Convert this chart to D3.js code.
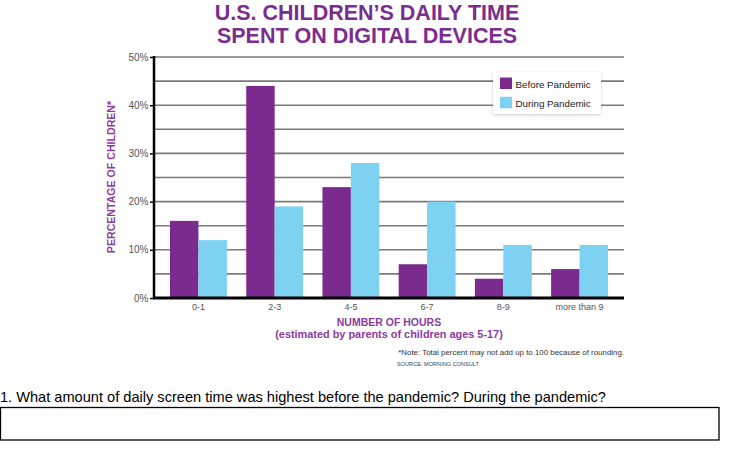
<!DOCTYPE html>
<html><head><meta charset="utf-8">
<script src="https://cdn.jsdelivr.net/npm/d3@7"></script>
<style>body{margin:0;background:#fff}svg{display:block}</style>
</head><body>
<script>
const categories = ["0-1","2-3","4-5","6-7","8-9","more than 9"];
const seriesNames = ["Before Pandemic","During Pandemic"];
const before = [16,44,23,7,4,6];
const during = [12,19,28,20,11,11];
const yTicks = [0,10,20,30,40,50];
const gridValues = [5,10,15,20,25,30,35,40,45,50];

const W=735,H=453;
const purple="#7b2a8e", blue="#7dd1f1", titleCol="#7b2d8e", labelCol="#8a3ca0";
const svg=d3.select("body").append("svg").attr("width",W).attr("height",H);
const ff="'Liberation Sans', Arial, sans-serif";

const x=d3.scaleBand().domain(categories).range([154,624]).paddingInner(0.254).paddingOuter(0.21);
const xs=d3.scaleBand().domain(seriesNames).range([0,x.bandwidth()]);
const y=d3.scaleLinear().domain([0,50]).range([298,57]);

// title
svg.append("text").attr("x",367).attr("y",20).attr("text-anchor","middle").attr("font-family",ff)
 .attr("font-weight","bold").attr("font-size",21.5).attr("fill",titleCol).text("U.S. CHILDREN’S DAILY TIME");
svg.append("text").attr("x",367).attr("y",42.7).attr("text-anchor","middle").attr("font-family",ff)
 .attr("font-weight","bold").attr("font-size",21.5).attr("fill",titleCol).text("SPENT ON DIGITAL DEVICES");

// gridlines
svg.append("g").selectAll("line").data(gridValues).join("line")
 .attr("x1",154).attr("x2",624).attr("y1",d=>y(d)).attr("y2",d=>y(d))
 .attr("stroke","#7a7a7a").attr("stroke-width",1.6);

// bars
const data=categories.map((c,i)=>({c,vals:[before[i],during[i]]}));
const g=svg.append("g");
g.selectAll("g").data(data).join("g").attr("transform",d=>`translate(${x(d.c)},0)`)
 .selectAll("rect").data(d=>d.vals.map((v,j)=>({v,s:seriesNames[j],j}))).join("rect")
 .attr("x",d=>xs(d.s)).attr("width",xs.bandwidth()).attr("y",d=>y(d.v)).attr("height",d=>y(0)-y(d.v))
 .attr("fill",d=>d.j===0?purple:blue);

// y axis
const ya=svg.append("g").attr("transform","translate(154,0)")
 .call(d3.axisLeft(y).tickValues(yTicks).tickFormat(d=>d+"%").tickSize(4).tickPadding(1.5));
ya.select(".domain").attr("stroke","#000").attr("stroke-width",2.5).attr("d","M0,56V299");
ya.selectAll(".tick line").attr("stroke","#000").attr("stroke-width",1.5);
ya.selectAll(".tick text").attr("font-family",ff).attr("font-size",10).attr("fill","#555").attr("dy","0.3em");

// x axis
const xa=svg.append("g").attr("transform","translate(0,298)")
 .call(d3.axisBottom(x).tickSize(0).tickPadding(6));
xa.select(".domain").attr("stroke","#000").attr("stroke-width",3).attr("d","M153,0H624");
xa.selectAll(".tick text").attr("font-family",ff).attr("font-size",9).attr("fill","#555");

// axis titles
svg.append("text").attr("transform","translate(115,177) rotate(-90)").attr("text-anchor","middle")
 .attr("font-family",ff).attr("font-weight","bold").attr("font-size",10.6).attr("fill",labelCol).text("PERCENTAGE OF CHILDREN*");
svg.append("text").attr("x",389).attr("y",326).attr("text-anchor","middle").attr("font-family",ff)
 .attr("font-weight","bold").attr("font-size",10.5).attr("fill",labelCol).text("NUMBER OF HOURS");
svg.append("text").attr("x",389).attr("y",337.5).attr("text-anchor","middle").attr("font-family",ff)
 .attr("font-weight","bold").attr("font-size",10.9).attr("fill",labelCol).text("(estimated by parents of children ages 5-17)");

// notes
svg.append("text").attr("x",624).attr("y",355).attr("text-anchor","end").attr("font-family",ff)
 .attr("font-size",7.9).attr("fill","#333").text("*Note: Total percent may not add up to 100 because of rounding.");
svg.append("text").attr("x",397).attr("y",366).attr("font-family",ff)
 .attr("font-size",5.6).attr("fill","#444").text("SOURCE: MORNING CONSULT");

// legend
const defs=svg.append("defs");
const f=defs.append("filter").attr("id","sh").attr("x","-20%").attr("y","-20%").attr("width","140%").attr("height","150%");
f.append("feDropShadow").attr("dx",0).attr("dy",1).attr("stdDeviation",1.5).attr("flood-color","#000").attr("flood-opacity",0.2);
const lg=svg.append("g");
lg.append("rect").attr("x",493).attr("y",72).attr("width",108).attr("height",42).attr("fill","#fff").attr("filter","url(#sh)");
seriesNames.forEach((s,i)=>{
  lg.append("rect").attr("x",500).attr("y",77.5+i*19.3).attr("width",12).attr("height",11.5).attr("fill",i===0?purple:blue);
  lg.append("text").attr("x",515.5).attr("y",87.5+i*19.3).attr("font-family",ff).attr("font-size",9.8).attr("fill","#222").text(s);
});

// question
svg.append("text").attr("x",0).attr("y",402).attr("font-family",ff).attr("font-size",14.6).attr("fill","#000")
 .text("1. What amount of daily screen time was highest before the pandemic? During the pandemic?");
svg.append("rect").attr("x",0.5).attr("y",407.5).attr("width",718.5).attr("height",32.5).attr("fill","none").attr("stroke","#000").attr("stroke-width",1.3);
</script>
</body></html>
